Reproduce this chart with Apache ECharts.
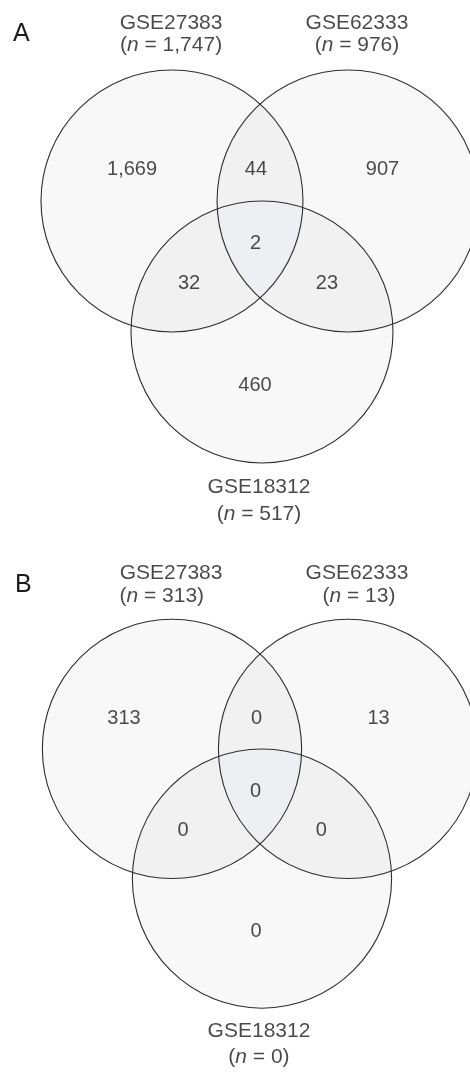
<!DOCTYPE html>
<html>
<head>
<meta charset="utf-8">
<style>
  html, body { margin: 0; padding: 0; background: #ffffff; }
  #chart { width: 470px; height: 1073px; }
</style>
<script src="https://cdn.jsdelivr.net/npm/echarts@6/dist/echarts.min.js"></script>
</head>
<body>
<div id="chart"></div>
<script>
// ---------------- data ----------------
const panelLetters = ['A', 'B'];
const setNames = ['GSE27383', 'GSE62333', 'GSE18312'];
const setSizesA = [1747, 976, 517];
const setSizesB = [313, 13, 0];
// regions: [1 only, 1∩2, 2 only, 1∩2∩3, 1∩3, 2∩3, 3 only]
const regionNames = ['1 only', '1∩2', '2 only', '1∩2∩3', '1∩3', '2∩3', '3 only'];
const countsA = [1669, 44, 907, 2, 32, 23, 460];
const countsB = [313, 0, 13, 0, 0, 0, 0];

// ---------------- layout (venn units, radius = 1) ----------------
const circleCenters = [[-0.672, 0], [0.672, 0], [0.015, 1.0]];
const circleRadius = 1;
const xRange = [-1.985, 1.603];
const yRange = [-1.5, 2.5];
// set title positions: [x, yNameLine, yCountLine]
const titlePosA = [[-0.679, -1.355, -1.19], [0.740, -1.355, -1.19], [-0.008, 2.183, 2.389]];
const titlePosB = [[-0.679, -1.359, -1.176], [0.740, -1.359, -1.176], [-0.008, 2.176, 2.38]];
// x of the "(n = ..)" line for panel B (left set is left aligned)
const nLineXB = [-0.75, 0.755, -0.008];
const countPosA = [[-0.977, -0.24], [-0.031, -0.237], [0.935, -0.24], [-0.034, 0.328], [-0.542, 0.63], [0.511, 0.63], [-0.038, 1.405]];
const countPosB = [[-1.038, -0.233], [-0.027, -0.233], [0.905, -0.237], [-0.034, 0.328], [-0.588, 0.63], [0.468, 0.63], [-0.03, 1.405]];

const FONT = 'Liberation Sans, Arial, Helvetica, sans-serif';
const TEXT = '#1c1c1c';

function fmt(n) { return n.toLocaleString('en-US'); }

function circleData() {
  return circleCenters.map(c => [c[0], c[1], circleRadius]);
}

function intersections(c1, r1, c2, r2) {
  const dx = c2[0] - c1[0], dy = c2[1] - c1[1];
  const d = Math.hypot(dx, dy);
  const a = (r1 * r1 - r2 * r2 + d * d) / (2 * d);
  const h = Math.sqrt(Math.max(0, r1 * r1 - a * a));
  const mx = c1[0] + a * dx / d, my = c1[1] + a * dy / d;
  return [[mx + h * dy / d, my - h * dx / d], [mx - h * dy / d, my + h * dx / d]];
}
function inside(p, c, r) { return Math.hypot(p[0] - c[0], p[1] - c[1]) < r + 0.5; }

function arcPoints(c, r, p, q, n) {
  const a1 = Math.atan2(p[1] - c[1], p[0] - c[0]);
  let a2 = Math.atan2(q[1] - c[1], q[0] - c[0]);
  let d = a2 - a1;
  while (d > Math.PI) d -= 2 * Math.PI;
  while (d <= -Math.PI) d += 2 * Math.PI;
  const pts = [];
  for (let i = 0; i <= n; i++) {
    const a = a1 + d * i / n;
    pts.push([c[0] + r * Math.cos(a), c[1] + r * Math.sin(a)]);
  }
  return pts;
}

function circleFillSeries(g) {
  return {
    type: 'custom', xAxisIndex: g, yAxisIndex: g, silent: true, z: 1,
    data: circleData(),
    renderItem: function (params, api) {
      const c = api.coord([api.value(0), api.value(1)]);
      const s = api.size([api.value(2), api.value(2)]);
      return { type: 'circle', shape: { cx: c[0], cy: c[1], r: s[1] },
               style: { fill: 'rgba(0,0,0,0.028)', stroke: null } };
    }
  };
}
function circleStrokeSeries(g) {
  return {
    type: 'custom', xAxisIndex: g, yAxisIndex: g, silent: true, z: 3,
    data: circleData(),
    renderItem: function (params, api) {
      const c = api.coord([api.value(0), api.value(1)]);
      const s = api.size([api.value(2), api.value(2)]);
      return { type: 'circle', shape: { cx: c[0], cy: c[1], r: s[1] },
               style: { fill: null, stroke: '#2e2e2e', lineWidth: 1.1 } };
    }
  };
}
function tripleSeries(g) {
  return {
    type: 'custom', xAxisIndex: g, yAxisIndex: g, silent: true, z: 2,
    data: [[0, 0]],
    renderItem: function (params, api) {
      const cs = circleCenters.map(c => api.coord(c));
      const r = api.size([circleRadius, circleRadius])[1];
      const pick = (i, j, k) => intersections(cs[i], r, cs[j], r).filter(p => inside(p, cs[k], r))[0];
      const v12 = pick(0, 1, 2), v13 = pick(0, 2, 1), v23 = pick(1, 2, 0);
      let pts = [];
      pts = pts.concat(arcPoints(cs[0], r, v13, v12, 40));
      pts = pts.concat(arcPoints(cs[1], r, v12, v23, 40));
      pts = pts.concat(arcPoints(cs[2], r, v23, v13, 40));
      return { type: 'polygon', shape: { points: pts },
               style: { fill: '#edeff3', stroke: null } };
    }
  };
}
function labelSeries(g, sizes, counts, titlePos, nLineX, countPos) {
  const data = [];
  setNames.forEach((name, i) => {
    data.push({ value: [titlePos[i][0], titlePos[i][1]], text: name, kind: 't' });
    data.push({ value: [nLineX[i], titlePos[i][2]], text: '({i|n} = ' + fmt(sizes[i]) + ')', kind: 't' });
  });
  counts.forEach((v, i) => {
    data.push({ value: countPos[i], text: fmt(v), kind: 'c', name: regionNames[i] });
  });
  return {
    type: 'scatter', xAxisIndex: g, yAxisIndex: g, silent: true, z: 5,
    symbolSize: 1, itemStyle: { color: 'rgba(0,0,0,0)' },
    data: data.map(d => ({
      value: d.value, name: d.name,
      label: {
        show: true, position: 'inside',
        formatter: d.text,
        color: TEXT, fontFamily: FONT,
        fontSize: d.kind === 't' ? 21 : 20,
        rich: { i: { fontStyle: 'italic', fontSize: 21, fontFamily: FONT, color: TEXT } }
      }
    }))
  };
}

const chart = echarts.init(document.getElementById('chart'), null, { renderer: 'canvas' });
const option = {
  backgroundColor: '#ffffff',
  animation: false,
  title: [
    { text: panelLetters[0], left: 13, top: 21.5, padding: 0,
      textStyle: { fontSize: 25, lineHeight: 25, fontWeight: 'normal', fontFamily: FONT, color: TEXT } },
    { text: panelLetters[1], left: 15, top: 572.5, padding: 0,
      textStyle: { fontSize: 25, lineHeight: 25, fontWeight: 'normal', fontFamily: FONT, color: TEXT } }
  ],
  grid: [
    { left: 0, top: 4.5, width: 470, height: 524 },
    { left: 0, top: 554.5, width: 470, height: 524 }
  ],
  xAxis: [0, 1].map(g => ({ gridIndex: g, type: 'value', min: xRange[0], max: xRange[1], show: false })),
  yAxis: [0, 1].map(g => ({ gridIndex: g, type: 'value', min: yRange[0], max: yRange[1], inverse: true, show: false })),
  series: [
    circleFillSeries(0), tripleSeries(0), circleStrokeSeries(0),
    labelSeries(0, setSizesA, countsA, titlePosA, titlePosA.map(p => p[0]), countPosA),
    circleFillSeries(1), tripleSeries(1), circleStrokeSeries(1),
    labelSeries(1, setSizesB, countsB, titlePosB, nLineXB, countPosB)
  ]
};
chart.setOption(option);
</script>
</body>
</html>
